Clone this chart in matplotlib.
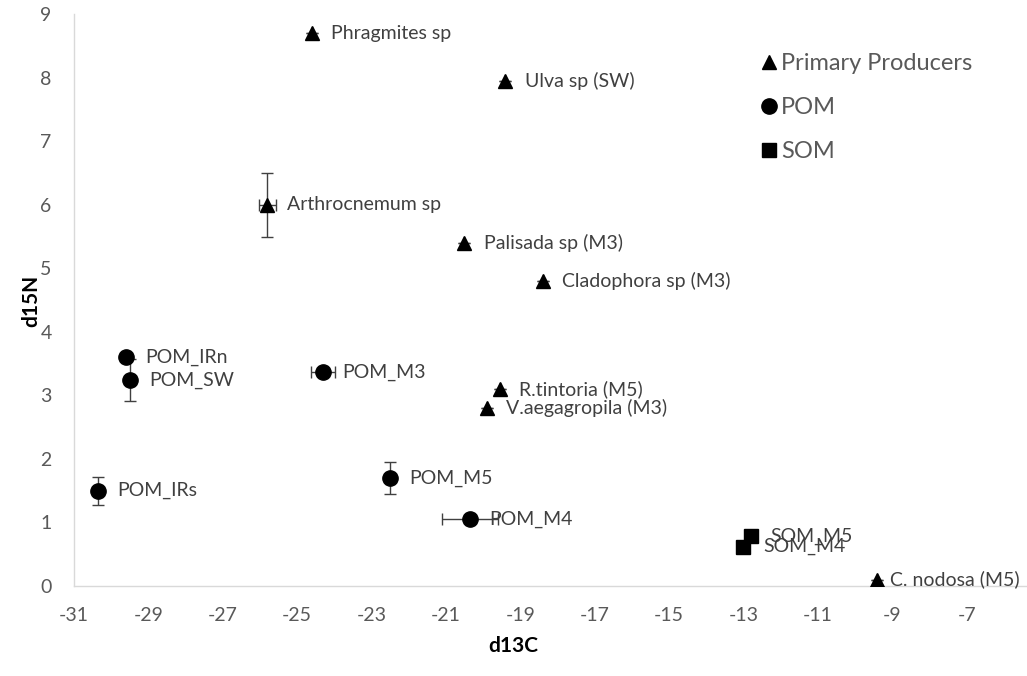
import matplotlib
matplotlib.use("Agg")
import matplotlib.pyplot as plt
from matplotlib.lines import Line2D

plt.rcParams['font.family'] = ['Lato', 'DejaVu Sans']
plt.rcParams['axes.unicode_minus'] = False

# Primary producers
pp_names = ["Phragmites sp", "Ulva sp (SW)", "Arthrocnemum sp", "Palisada sp (M3)",
            "Cladophora sp (M3)", "R.tintoria (M5)", "V.aegagropila (M3)", "C. nodosa (M5)"]
pp_c = [-24.6, -19.4, -25.8, -20.5, -18.4, -19.55, -19.9, -9.4]
pp_n = [8.7, 7.95, 6.0, 5.4, 4.8, 3.1, 2.8, 0.1]
pp_cerr = [0, 0, 0.22, 0, 0, 0, 0, 0]
pp_nerr = [0, 0, 0.5, 0, 0, 0, 0, 0]

# Particulate organic matter
pom_names = ["POM_IRn", "POM_SW", "POM_M3", "POM_IRs", "POM_M5", "POM_M4"]
pom_c = [-29.6, -29.5, -24.3, -30.35, -22.5, -20.35]
pom_n = [3.6, 3.24, 3.37, 1.5, 1.7, 1.05]
pom_cerr = [0, 0, 0.33, 0, 0, 0.75]
pom_nerr = [0, 0.33, 0, 0.22, 0.25, 0]

# Sediment organic matter
som_names = ["SOM_M5", "SOM_M4"]
som_c = [-12.8, -13.0]
som_n = [0.78, 0.62]

x_ticks = list(range(-31, -6, 2))
y_ticks = list(range(0, 10))

fig = plt.figure(figsize=(10.27, 6.76), dpi=100)
ax = fig.add_axes([0.072, 0.1331, 0.9416, 0.846])

err_kw = dict(fmt='none', ecolor='#404040', elinewidth=1, capsize=4.5, capthick=1, zorder=2)
ax.errorbar(pp_c, pp_n, xerr=pp_cerr, yerr=pp_nerr, **err_kw)
ax.errorbar(pom_c, pom_n, xerr=pom_cerr, yerr=pom_nerr, **err_kw)

ax.plot(pp_c, pp_n, linestyle='none', marker='^', ms=10, color='black', zorder=3)
ax.plot(pom_c, pom_n, linestyle='none', marker='o', ms=11, color='black', zorder=3)
ax.plot(som_c, som_n, linestyle='none', marker='s', ms=10, color='black', zorder=3)

# Data labels sit to the right of each marker
lab_kw = dict(textcoords='offset points', ha='left', va='center', fontsize=14, color='#404040')
for name, x, y in zip(pp_names, pp_c, pp_n):
    off = (9, 0) if name.startswith("C. nodosa") else (14, 0)
    ax.annotate(name, (x, y), xytext=off, **lab_kw)
for name, x, y in zip(pom_names, pom_c, pom_n):
    ax.annotate(name, (x, y), xytext=(14, 0), **lab_kw)
for name, x, y in zip(som_names, som_c, som_n):
    ax.annotate(name, (x, y), xytext=(14, 0), zorder=4, **lab_kw)

ax.set_xlim(-31, -5)
ax.set_ylim(0, 9)
ax.set_xticks(x_ticks)
ax.set_yticks(y_ticks)
ax.tick_params(length=0, labelsize=14, labelcolor='#595959')
ax.tick_params(axis='x', pad=15)
ax.tick_params(axis='y', pad=16)
for s in ['top', 'right']:
    ax.spines[s].set_visible(False)
for s in ['left', 'bottom']:
    ax.spines[s].set_color('#d9d9d9')
    ax.spines[s].set_linewidth(1)

fig.text(0.5, 0.045, "d13C", ha='center', va='center', fontsize=15, fontweight='bold', color='black')
fig.text(0.03, 0.555, "d15N", ha='center', va='center', rotation=90, fontsize=15,
         fontweight='bold', color='black')

handles = [
    Line2D([], [], linestyle='none', marker='^', ms=10, color='black'),
    Line2D([], [], linestyle='none', marker='o', ms=11, color='black'),
    Line2D([], [], linestyle='none', marker='s', ms=10, color='black'),
]
leg = fig.legend(handles, ["Primary Producers", "POM", "SOM"], loc='upper left',
                 bbox_to_anchor=(0.733, 0.935), frameon=False, fontsize=17,
                 handlelength=0.55, handletextpad=0.25, labelspacing=0.97, borderaxespad=0)
for t in leg.get_texts():
    t.set_color('#595959')

fig.savefig("out.png", dpi=100)
